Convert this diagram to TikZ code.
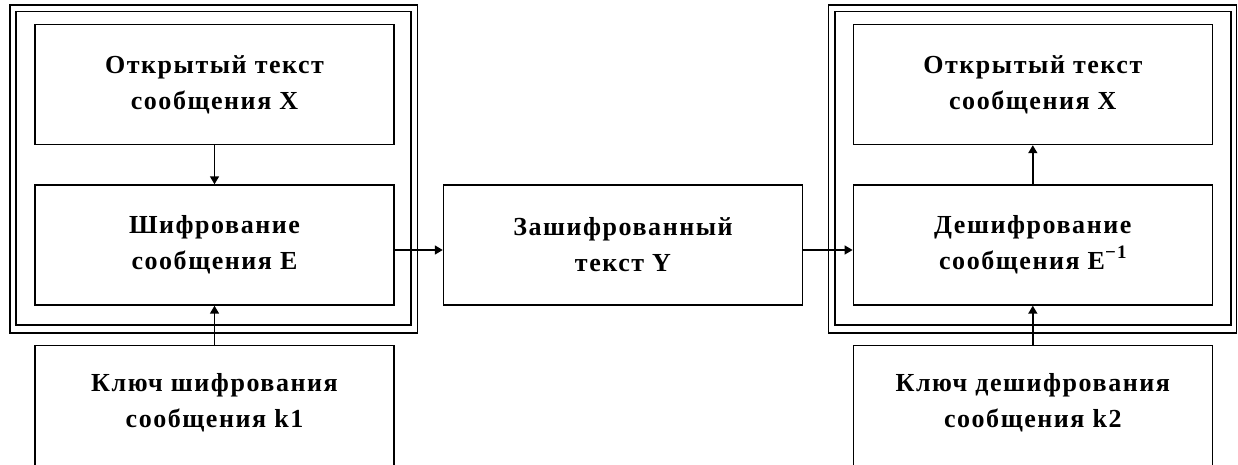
\documentclass[tikz,border=0pt]{standalone}
\usepackage{fontspec}
\setmainfont{Liberation Serif}
\newfontfamily\boxfont{Liberation Serif}[LetterSpace=6]
\usetikzlibrary{arrows.meta}
\newcommand{\invexp}{\raisebox{0.42em}{\fontsize{19}{19}\selectfont −1}}
\tikzset{
  x=1pt, y=-1pt,
  boxtext/.style={align=center, inner sep=0pt,
    font=\boxfont\bfseries\fontsize{26}{36}\selectfont},
  block/.style={boxtext, draw, line width=1.4pt, minimum width=359pt, minimum height=120pt},
  keyblock/.style={draw, line width=1.4pt, minimum width=359pt, minimum height=140pt,
    anchor=north},
  frameline/.style={line width=1.2pt},
  flow/.style={line width=1.5pt, -{Triangle[length=8pt,width=9pt]}}
}
\begin{document}
\begin{tikzpicture}
  \clip (0,0) rectangle (1238,465);
  \fill[white] (0,0) rectangle (1238,465);

  % double frames around the encryption and decryption units
  \draw[frameline] (10,5) rectangle (417.5,333);
  \draw[frameline] (16,11.5) rectangle (411,325);
  \draw[frameline] (828.3,5) rectangle (1236.7,333);
  \draw[frameline] (835,11.5) rectangle (1231,325);

  % sender side
  \node[block] (plainA) at (214.5,84.5) {Открытый текст\\сообщения X};
  \node[block] (enc) at (214.5,245) {Шифрование\\сообщения E};
  \node[keyblock] (keyA) at (214.5,345) {};
  \node[boxtext] (keyAtext) at ([yshift=-58pt]keyA.north) {Ключ шифрования\\сообщения k1};

  % channel
  \node[block] (cipher) at (623,245) {Зашифрованный\\текст Y};

  % receiver side
  \node[block] (plainB) at (1032.8,84.5) {Открытый текст\\сообщения X};
  \node[block] (dec) at (1032.8,245) {Дешифрование\\сообщения E\invexp};
  \node[keyblock] (keyB) at (1032.8,345) {};
  \node[boxtext] (keyBtext) at ([yshift=-58pt]keyB.north) {Ключ дешифрования\\сообщения k2};

  % connectors
  \draw[flow] (plainA.south) -- (enc.north);
  \draw[flow] (keyA.north) -- (enc.south);
  \draw[flow] ([yshift=-5pt]enc.east) -- ([yshift=-5pt]cipher.west);
  \draw[flow] ([yshift=-5pt]cipher.east) -- ([yshift=-5pt]dec.west);
  \draw[flow] (dec.north) -- (plainB.south);
  \draw[flow] (keyB.north) -- (dec.south);
\end{tikzpicture}
\end{document}
